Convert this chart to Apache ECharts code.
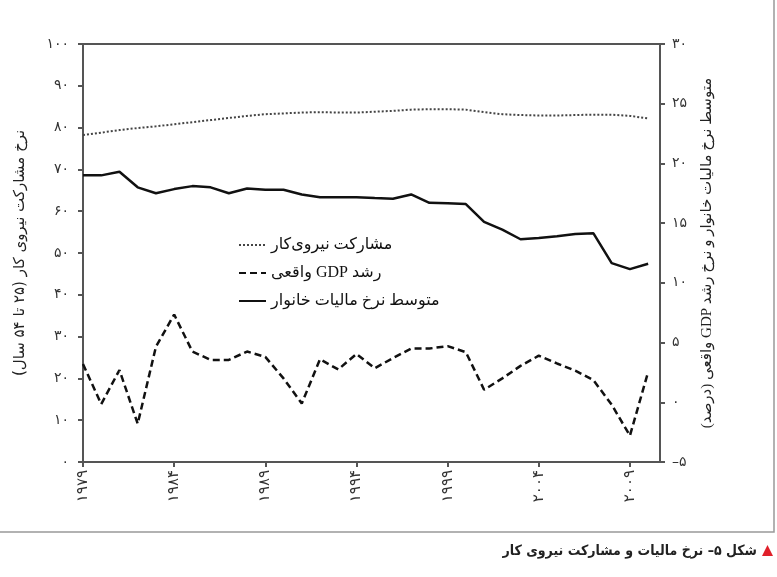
<!DOCTYPE html>
<html><head><meta charset="utf-8">
<script src="https://cdn.jsdelivr.net/npm/echarts@6/dist/echarts.min.js"></script>
<style>html,body{margin:0;padding:0;background:#fff}#c{width:777px;height:577px}</style>
</head><body><div id="c"></div>
<script>
const years = [1979,1980,1981,1982,1983,1984,1985,1986,1987,1988,1989,1990,1991,1992,1993,1994,1995,1996,1997,1998,1999,2000,2001,2002,2003,2004,2005,2006,2007,2008,2009,2010];
const xTicks = [1979,1984,1989,1994,1999,2004,2009];
const labor = [78.2,78.8,79.4,79.9,80.3,80.8,81.3,81.8,82.3,82.8,83.2,83.4,83.6,83.7,83.6,83.6,83.8,84.0,84.3,84.4,84.4,84.3,83.7,83.2,83.0,82.9,82.9,83.0,83.1,83.1,82.8,82.2];
const gdp = [3.2,-0.15,2.7,-1.8,4.65,7.35,4.25,3.55,3.55,4.25,3.8,2.0,-0.1,3.6,2.75,4.05,2.85,3.7,4.5,4.5,4.7,4.2,1.05,2.0,3.05,3.9,3.25,2.65,1.85,-0.2,-2.8,2.55];
const tax = [19.0,19.0,19.3,18.0,17.5,17.85,18.1,18.0,17.5,17.9,17.8,17.8,17.4,17.17,17.17,17.17,17.1,17.05,17.4,16.7,16.67,16.6,15.1,14.45,13.65,13.75,13.9,14.1,14.15,11.65,11.15,11.6];
const seriesNames = ['مشارکت نیروی\u200Cکار','رشد GDP واقعی','متوسط نرخ مالیات خانوار'];
const leftName = 'نرخ مشارکت نیروی کار (۲۵ تا ۵۴ سال)';
const rightName = 'متوسط نرخ مالیات خانوار و نرخ رشد GDP واقعی (درصد)';
const caption = 'شکل ۵– نرخ مالیات و مشارکت نیروی کار';

const rtl = s => '\u202B' + s + '\u202C';
const fa = n => String(n).replace(/\d/g, d => '۰۱۲۳۴۵۶۷۸۹'[d]);
const pairs = arr => years.map((y, i) => [y, arr[i]]);
const FONT = 'DejaVu Sans';
const MIXFONT = "'Liberation Serif', 'DejaVu Sans'";
const axisCol = '#555';

const chart = echarts.init(document.getElementById('c'), null, {renderer: 'canvas'});
chart.setOption({
  animation: false,
  backgroundColor: '#fff',
  grid: {left: 83, right: 117, top: 44, bottom: 115, show: true, borderColor: axisCol, borderWidth: 2, backgroundColor: 'transparent'},
  xAxis: {
    type: 'value', min: 1979, max: 2010.65,
    axisLine: {show: true, lineStyle: {color: axisCol, width: 2}},
    axisTick: {show: true, customValues: xTicks, length: 5, lineStyle: {color: axisCol, width: 2}},
    axisLabel: {customValues: xTicks, rotate: 90, formatter: v => fa(v), color: '#333', fontFamily: FONT, fontSize: 15, margin: 8},
    splitLine: {show: false}
  },
  yAxis: [{
    type: 'value', min: 0, max: 100, interval: 10, position: 'left',
    name: rtl(leftName), nameLocation: 'middle', nameRotate: 90, nameGap: 55,
    nameTextStyle: {fontFamily: FONT, fontSize: 15, color: '#222'},
    axisLine: {show: true, lineStyle: {color: axisCol, width: 2}},
    axisTick: {show: true, length: 5, lineStyle: {color: axisCol, width: 2}},
    axisLabel: {formatter: v => fa(v), color: '#333', fontFamily: FONT, fontSize: 14, margin: 14},
    splitLine: {show: false}
  }, {
    type: 'value', min: -5, max: 30, interval: 5, position: 'right',
    name: rtl(rightName), nameLocation: 'middle', nameRotate: 90, nameGap: 40,
    nameTextStyle: {fontFamily: MIXFONT, fontSize: 15, color: '#222'},
    axisLine: {show: true, lineStyle: {color: axisCol, width: 2}},
    axisTick: {show: true, length: 5, lineStyle: {color: axisCol, width: 2}},
    axisLabel: {formatter: v => v < 0 ? '–' + fa(-v) : fa(v), color: '#333', fontFamily: FONT, fontSize: 14, margin: 12},
    splitLine: {show: false}
  }],
  legend: {
    orient: 'vertical', left: 233, top: 231, itemWidth: 27, itemHeight: 14, itemGap: 10,
    itemStyle: {opacity: 0},
    textStyle: {fontFamily: MIXFONT, fontSize: 16, lineHeight: 18, color: '#111'},
    data: seriesNames.map(rtl)
  },
  series: [{
    name: rtl(seriesNames[0]), type: 'line', yAxisIndex: 0, data: pairs(labor), symbol: 'none',
    lineStyle: {color: '#444', width: 2, type: [2, 2]}, itemStyle: {color: '#444'}
  }, {
    name: rtl(seriesNames[1]), type: 'line', yAxisIndex: 1, data: pairs(gdp), symbol: 'none',
    lineStyle: {color: '#111', width: 2.5, type: [7, 4]}, itemStyle: {color: '#111'}
  }, {
    name: rtl(seriesNames[2]), type: 'line', yAxisIndex: 1, data: pairs(tax), symbol: 'none',
    lineStyle: {color: '#111', width: 2.5}, itemStyle: {color: '#111'}
  }],
  graphic: [
    {type: 'rect', shape: {x: -2, y: -2, width: 776, height: 534}, style: {fill: 'none', stroke: '#999', lineWidth: 1.5}, silent: true},
    {type: 'polygon', shape: {points: [[762, 556], [773, 556], [767.5, 545]]}, style: {fill: '#e0202a'}},
    {type: 'text', x: 757, y: 551, style: {text: rtl(caption), fill: '#222', font: 'bold 14px "DejaVu Sans Condensed", "DejaVu Sans"', textAlign: 'right', textVerticalAlign: 'middle'}}
  ]
});
</script></body></html>
